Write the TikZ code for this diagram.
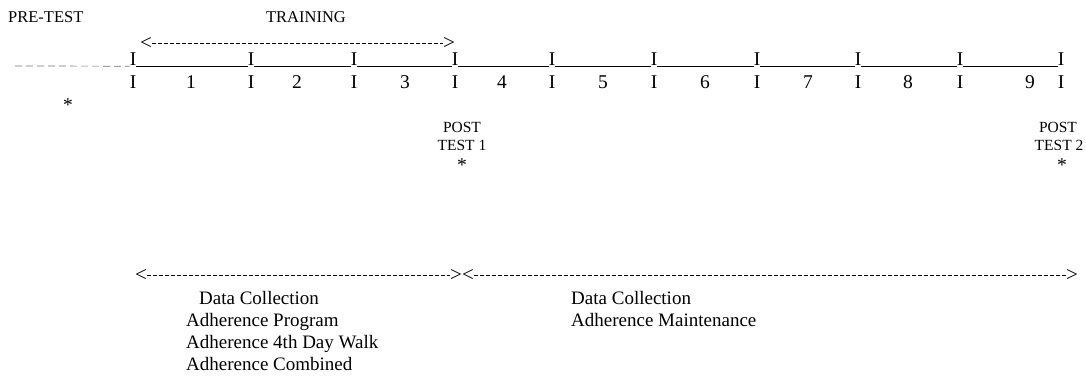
\documentclass[tikz,border=0pt]{standalone}
\usepackage{fontspec}
\setmainfont{Liberation Serif}
\begin{document}
\begin{tikzpicture}[x=1pt,y=-1pt,
  txt/.style={inner sep=0pt, anchor=base west, font=\fontsize{19}{21}\selectfont},
  tickmark/.style={inner sep=0pt, font=\fontsize{19.5}{21}\selectfont},
  head/.style={inner sep=0pt, font=\fontsize{16.5}{18}\selectfont},
  small/.style={inner sep=0pt, font=\fontsize{15.5}{17}\selectfont},
  chev/.style={inner sep=0pt, font=\fontsize{21}{23}\selectfont},
  dashline/.style={line width=0.7pt, dash pattern=on 4pt off 2pt},
  timeline/.style={line width=0.8pt},
  preline/.style={line width=0.7pt, black!55, dash pattern=on 7pt off 4pt}]
\useasboundingbox (0,0) rectangle (1086,390);
\fill[white] (0,0) rectangle (1086,390);

% headings
\node[head, anchor=west] (pre) at (8,17) {PRE-TEST};
\node[head] (train) at (306,17) {TRAINING};

% training arrow
\node[chev] (tal) at (146,43) {<};
\node[chev] (tar) at (449,43) {>};
\draw[dashline] (tal.east) -- (tar.west);

% top and bottom rows of I marks
\foreach \i/\x in {1/133,2/251,3/354,4/455,5/552,6/654,7/757,8/858,9/960,10/1061}{
  \node[tickmark, anchor=base] (t\i) at (\x,66) {I};
  \node[tickmark, anchor=base] (b\i) at (\x,89) {I};
}
% numbers
\foreach \n/\x in {1/191,2/297,3/405,4/502,5/603,6/705,7/808,8/908,9/1030}{
  \node[tickmark, anchor=base] (n\n) at (\x,89) {\n};
}
% timeline
\coordinate (start) at (15,66);
\draw[preline] (start) -- (t1.south west);
\foreach \a/\b in {1/2,2/3,3/4,4/5,5/6,6/7,7/8,8/9,9/10}{
  \draw[timeline] (t\a.south east) -- (t\b.south west);
}

% stars and post tests
\node[tickmark] (s0) at (68,105) {*};
\node[small] (p1a) at (462,127) {POST};
\node[small] (p1b) at (462,145) {TEST 1};
\node[tickmark] (s1) at (462,165) {*};
\node[small] (p2a) at (1058,127) {POST};
\node[small] (p2b) at (1059,145) {TEST 2};
\node[tickmark] (s2) at (1062,165) {*};

% phase arrows
\node[chev] (al) at (141,275) {<};
\node[chev] (ar) at (456,275) {>};
\node[chev] (bl) at (468,275) {<};
\node[chev] (br) at (1072,275) {>};
\draw[dashline] (al.east) -- (ar.west);
\draw[dashline] (bl.east) -- (br.west);

% phase texts
\node[txt] (l1) at (199,304) {Data Collection};
\node[txt] (l2) at (186,326) {Adherence Program};
\node[txt] (l3) at (186,348) {Adherence 4th Day Walk};
\node[txt] (l4) at (186,370) {Adherence Combined};
\node[txt] (r1) at (571,304) {Data Collection};
\node[txt] (r2) at (571,326) {Adherence Maintenance};
\end{tikzpicture}
\end{document}
